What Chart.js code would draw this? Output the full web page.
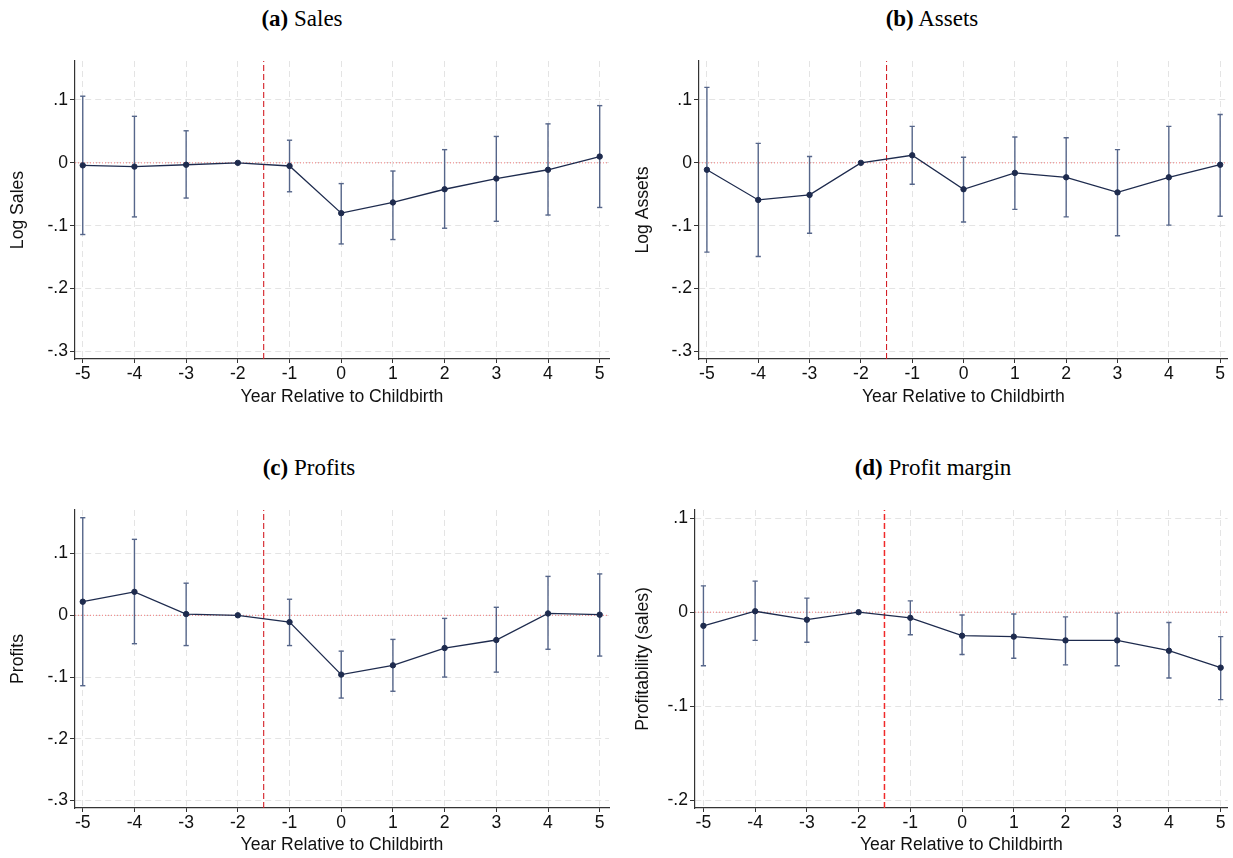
<!DOCTYPE html>
<html><head><meta charset="utf-8">
<script src="https://cdn.jsdelivr.net/npm/chart.js@4/dist/chart.umd.min.js"></script>
<style>
html,body{margin:0;padding:0;background:#fff;overflow:hidden;width:1233px;height:858px;}
canvas.panel{position:absolute;}
.ttl{position:absolute;width:400px;text-align:center;font-family:"Liberation Serif","Times New Roman",serif;font-size:23px;line-height:26px;color:#000;white-space:nowrap;}
</style></head><body>
<script>
// ---------- data ----------
const years = [-5,-4,-3,-2,-1,0,1,2,3,4,5];
const xTickValues = [-5,-4,-3,-2,-1,0,1,2,3,4,5];
const xTickLabels = ['-5','-4','-3','-2','-1','0','1','2','3','4','5'];
const yTicksMain = [0.1,0,-0.1,-0.2,-0.3];
const yTickLabelsMain = ['.1','0','-.1','-.2','-.3'];
const yTicksMargin = [0.1,0,-0.1,-0.2];
const yTickLabelsMargin = ['.1','0','-.1','-.2'];
const eventLineX = -1.5;
const xAxisTitle = 'Year Relative to Childbirth';

const salesCoef = [-0.004,-0.006,-0.003,0,-0.005,-0.080,-0.063,-0.042,-0.025,-0.011,0.010];
const salesLo   = [-0.114,-0.086,-0.056,null,-0.046,-0.129,-0.122,-0.104,-0.093,-0.083,-0.071];
const salesHi   = [0.106,0.074,0.051,null,0.036,-0.033,-0.013,0.021,0.042,0.062,0.091];

const assetsCoef = [-0.011,-0.059,-0.051,0,0.012,-0.042,-0.016,-0.023,-0.047,-0.023,-0.003];
const assetsLo   = [-0.142,-0.149,-0.112,null,-0.034,-0.094,-0.074,-0.086,-0.116,-0.099,-0.085];
const assetsHi   = [0.120,0.031,0.010,null,0.058,0.009,0.041,0.040,0.021,0.058,0.077];

const profitsCoef = [0.022,0.038,0.002,0,-0.011,-0.096,-0.081,-0.053,-0.040,0.003,0.001];
const profitsLo   = [-0.114,-0.046,-0.049,null,-0.049,-0.134,-0.123,-0.100,-0.092,-0.055,-0.066];
const profitsHi   = [0.158,0.123,0.052,null,0.026,-0.058,-0.039,-0.005,0.013,0.063,0.067];

const marginCoef = [-0.0145,0.001,-0.008,0,-0.006,-0.025,-0.026,-0.030,-0.030,-0.041,-0.059];
const marginLo   = [-0.057,-0.030,-0.032,null,-0.024,-0.045,-0.049,-0.056,-0.057,-0.070,-0.093];
const marginHi   = [0.028,0.033,0.015,null,0.012,-0.003,-0.002,-0.005,-0.001,-0.011,-0.026];

// ---------- layout / style ----------
const NAVY = '#1e2b4e';
const CI_COL = '#56668a';
const GRID = '#e4e4e4';
const FONT = '"Liberation Sans", Arial, sans-serif';
const FS = 17.6;

const panels = [
  {letter:'(a)', name:'Sales', ylabel:'Log Sales', coef:salesCoef, lo:salesLo, hi:salesHi,
   yT:yTicksMain, yL:yTickLabelsMain, ymin:-0.312, ymax:0.162, xmin:-5.15, xmax:5.18,
   canvas:{left:0,top:0,w:616,h:420}, plot:{l:75,t:61,r:609,b:359},
   title:{cx:302,cy:19}, xTitleY:397.5, yTitleX:18, vcol:'#d41f26', vw:1.1},
  {letter:'(b)', name:'Assets', ylabel:'Log Assets', coef:assetsCoef, lo:assetsLo, hi:assetsHi,
   yT:yTicksMain, yL:yTickLabelsMain, ymin:-0.312, ymax:0.162, xmin:-5.154, xmax:5.145,
   canvas:{left:624,top:0,w:609,h:420}, plot:{l:699,t:61,r:1233,b:359},
   title:{cx:932,cy:19}, xTitleY:397.5, yTitleX:643.5, vcol:'#d41f26', vw:1.1},
  {letter:'(c)', name:'Profits', ylabel:'Profits', coef:profitsCoef, lo:profitsLo, hi:profitsHi,
   yT:yTicksMain, yL:yTickLabelsMain, ymin:-0.312, ymax:0.1705, xmin:-5.15, xmax:5.18,
   canvas:{left:0,top:430,w:616,h:428}, plot:{l:75,t:510,r:609,b:808},
   title:{cx:309,cy:468}, xTitleY:845.5, yTitleX:18, vcol:'#d41f26', vw:1.1},
  {letter:'(d)', name:'Profit margin', ylabel:'Profitability (sales)', coef:marginCoef, lo:marginLo, hi:marginHi,
   yT:yTicksMargin, yL:yTickLabelsMargin, ymin:-0.2083, ymax:0.1087, xmin:-5.163, xmax:5.134,
   canvas:{left:624,top:430,w:609,h:428}, plot:{l:695,t:510,r:1233,b:808},
   title:{cx:933,cy:468}, xTitleY:845.5, yTitleX:643.5, vcol:'#f02a2a', vw:1.5},
];

panels.forEach(p => {
  const t = document.createElement('div');
  t.className = 'ttl';
  t.style.left = (p.title.cx - 200) + 'px';
  t.style.top = (p.title.cy - 13) + 'px';
  t.innerHTML = '<b>' + p.letter + '</b> ' + p.name;
  document.body.appendChild(t);

  const cv = document.createElement('canvas');
  cv.className = 'panel';
  cv.width = p.canvas.w; cv.height = p.canvas.h;
  cv.style.left = p.canvas.left + 'px'; cv.style.top = p.canvas.top + 'px';
  cv.style.width = p.canvas.w + 'px'; cv.style.height = p.canvas.h + 'px';
  document.body.appendChild(cv);

  const lh = FS * 1.2;
  const yScaleW = p.plot.l - p.canvas.left;
  const xScaleH = p.canvas.top + p.canvas.h - p.plot.b;
  const padTop = p.plot.t - p.canvas.top;
  const padRight = p.canvas.left + p.canvas.w - p.plot.r;
  const xTitlePad = p.canvas.top + p.canvas.h - p.xTitleY - lh / 2;
  const yTitlePad = p.yTitleX - p.canvas.left - lh / 2;

  const main = years.map((x, i) => ({x, y: p.coef[i]}));
  const ci = [];
  years.forEach((x, i) => {
    if (p.lo[i] == null) return;
    ci.push({x, y: p.lo[i]}, {x, y: p.hi[i]}, {x, y: null});
  });

  new Chart(cv, {
    type: 'scatter',
    data: {
      datasets: [
        {data: main, showLine: true, borderColor: NAVY, borderWidth: 1.3,
         pointRadius: 2.7, pointBackgroundColor: NAVY, pointBorderColor: NAVY, pointBorderWidth: 1, order: 0},
        {data: ci, showLine: true, spanGaps: false, borderColor: CI_COL, borderWidth: 1.4,
         pointStyle: 'line', pointRadius: 2.6, pointBorderColor: CI_COL, pointBorderWidth: 1.4, order: 1},
        {data: [{x: eventLineX, y: p.ymin}, {x: eventLineX, y: p.ymax}], showLine: true,
         borderColor: p.vcol, borderWidth: p.vw, borderDash: [6, 3], pointRadius: 0, order: 2},
        {data: [{x: p.xmin, y: 0}, {x: p.xmax, y: 0}], showLine: true,
         borderColor: '#f07a7a', borderWidth: 1, borderDash: [1, 2], pointRadius: 0, order: 3},
      ]
    },
    options: {
      responsive: false, animation: false, devicePixelRatio: 1,
      layout: {padding: {top: padTop, right: padRight, left: 0, bottom: 0}},
      plugins: {legend: {display: false}, tooltip: {enabled: false}},
      scales: {
        x: {
          type: 'linear', min: p.xmin, max: p.xmax,
          afterBuildTicks: s => { s.ticks = xTickValues.map(v => ({value: v})); },
          afterFit: s => { s.height = xScaleH; },
          ticks: {autoSkip: false, maxRotation: 0, padding: 1, color: '#111',
                  font: {family: FONT, size: FS}, callback: (v, i) => xTickLabels[i]},
          grid: {color: GRID, lineWidth: 1, tickLength: 4, tickColor: '#333', tickWidth: 1},
          border: {display: true, color: '#333', width: 1.2, dash: [6, 4]},
          title: {display: true, text: xAxisTitle, color: '#111', font: {family: FONT, size: FS},
                  padding: {top: 0, bottom: xTitlePad}}
        },
        y: {
          type: 'linear', min: p.ymin, max: p.ymax,
          afterBuildTicks: s => { s.ticks = p.yT.map(v => ({value: v})); },
          afterFit: s => { s.width = yScaleW; },
          ticks: {autoSkip: false, padding: 2, color: '#111',
                  font: {family: FONT, size: FS}, callback: (v, i) => p.yL[i]},
          grid: {color: GRID, lineWidth: 1, tickLength: 5, tickColor: '#333', tickWidth: 1},
          border: {display: true, color: '#333', width: 1.2, dash: [6, 4]},
          title: {display: true, text: p.ylabel, color: '#111', font: {family: FONT, size: FS},
                  padding: {top: yTitlePad, bottom: 0}}
        }
      }
    }
  });
});
</script>
</body></html>
